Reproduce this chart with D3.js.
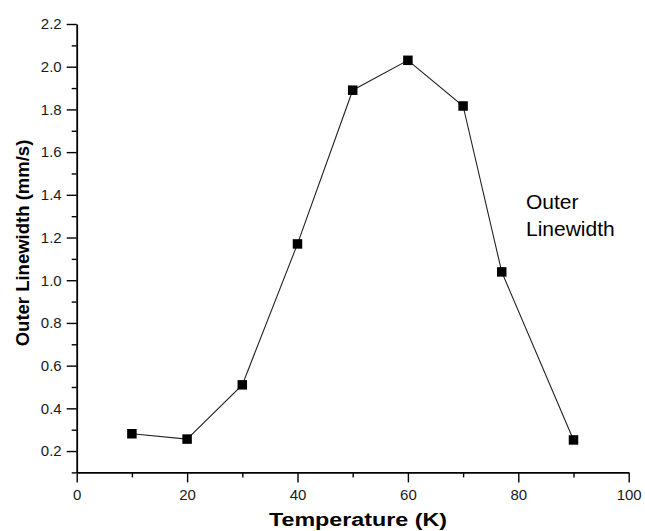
<!DOCTYPE html>
<html>
<head>
<meta charset="utf-8">
<script src="https://cdn.jsdelivr.net/npm/d3@7"></script>
<style>
  html, body { margin: 0; padding: 0; background: #fff; }
  svg { display: block; font-family: "Liberation Sans", Arial, Helvetica, sans-serif; }
</style>
</head>
<body>
<svg id="chart" width="645" height="531"></svg>
<script>
// ---- data ----
const temperatures = [10, 20, 30, 40, 50, 60, 70, 77, 90];
const outerLinewidth = [0.281, 0.256, 0.51, 1.17, 1.89, 2.03, 1.816, 1.039, 0.252];
const xMajorTicks = [0, 20, 40, 60, 80, 100];
const xMinorTicks = [10, 30, 50, 70, 90];
const yMajorTicks = [0.2, 0.4, 0.6, 0.8, 1.0, 1.2, 1.4, 1.6, 1.8, 2.0, 2.2];
const yMinorTicks = [0.1, 0.3, 0.5, 0.7, 0.9, 1.1, 1.3, 1.5, 1.7, 1.9, 2.1];
const xTitle = "Temperature (K)";
const yTitle = "Outer Linewidth (mm/s)";
const annotation = ["Outer", "Linewidth"];

const svg = d3.select("#chart");
const mLeft = 76.7, mRight = 628.7, mTop = 24, mBottom = 472.4;

const x = d3.scaleLinear().domain([0, 100]).range([mLeft, mRight]);
const y = d3.scaleLinear().domain([0.1, 2.2]).range([mBottom, mTop]);

// minor ticks
const xMinorAxis = d3.axisBottom(x).tickValues(xMinorTicks).tickSize(5).tickFormat("");
const yMinorAxis = d3.axisLeft(y).tickValues(yMinorTicks).tickSize(5).tickFormat("");
svg.append("g").attr("transform", `translate(0,${mBottom})`).call(xMinorAxis)
  .call(g => g.select(".domain").remove());
svg.append("g").attr("transform", `translate(${mLeft},0)`).call(yMinorAxis)
  .call(g => g.select(".domain").remove());

// major axes
const xAxis = d3.axisBottom(x).tickValues(xMajorTicks).tickSize(10).tickSizeOuter(0).tickPadding(7)
  .tickFormat(d3.format("d"));
const yAxis = d3.axisLeft(y).tickValues(yMajorTicks).tickSize(10).tickSizeOuter(0).tickPadding(5)
  .tickFormat(d3.format(".1f"));

const gx = svg.append("g").attr("transform", `translate(0,${mBottom})`).call(xAxis);
const gy = svg.append("g").attr("transform", `translate(${mLeft},0)`).call(yAxis);

[gx, gy].forEach(g => {
  g.selectAll("text").attr("font-size", 15).attr("fill", "#1a1a1a").attr("font-family", "Liberation Sans, Arial, sans-serif");
  g.select(".domain").attr("stroke", "#000").attr("stroke-width", 1.8);
});
svg.selectAll(".tick line").attr("stroke", "#000").attr("stroke-width", 1.4);

// line
const pts = temperatures.map((t, i) => [t, outerLinewidth[i]]);
svg.append("path")
  .datum(pts)
  .attr("fill", "none")
  .attr("stroke", "#222")
  .attr("stroke-width", 1.1)
  .attr("d", d3.line().x(d => x(d[0])).y(d => y(d[1])));

// markers
const ms = 9.5;
svg.append("g").selectAll("rect").data(pts).join("rect")
  .attr("x", d => x(d[0]) - ms / 2)
  .attr("y", d => y(d[1]) - ms / 2)
  .attr("width", ms).attr("height", ms)
  .attr("fill", "#000");

// axis titles
svg.append("text")
  .attr("x", 358).attr("y", 526)
  .attr("text-anchor", "middle")
  .attr("font-size", 18).attr("font-weight", "bold")
  .attr("textLength", 178).attr("lengthAdjust", "spacingAndGlyphs")
  .text(xTitle);

svg.append("text")
  .attr("transform", `translate(29,243) rotate(-90)`)
  .attr("text-anchor", "middle")
  .attr("font-size", 18.5).attr("font-weight", "bold")
  .text(yTitle);

// annotation
svg.append("text")
  .attr("x", 526).attr("y", 209)
  .attr("font-size", 21)
  .selectAll("tspan").data(annotation).join("tspan")
  .attr("x", 526)
  .attr("dy", (d, i) => i === 0 ? 0 : 26.7)
  .text(d => d);
</script>
</body>
</html>
